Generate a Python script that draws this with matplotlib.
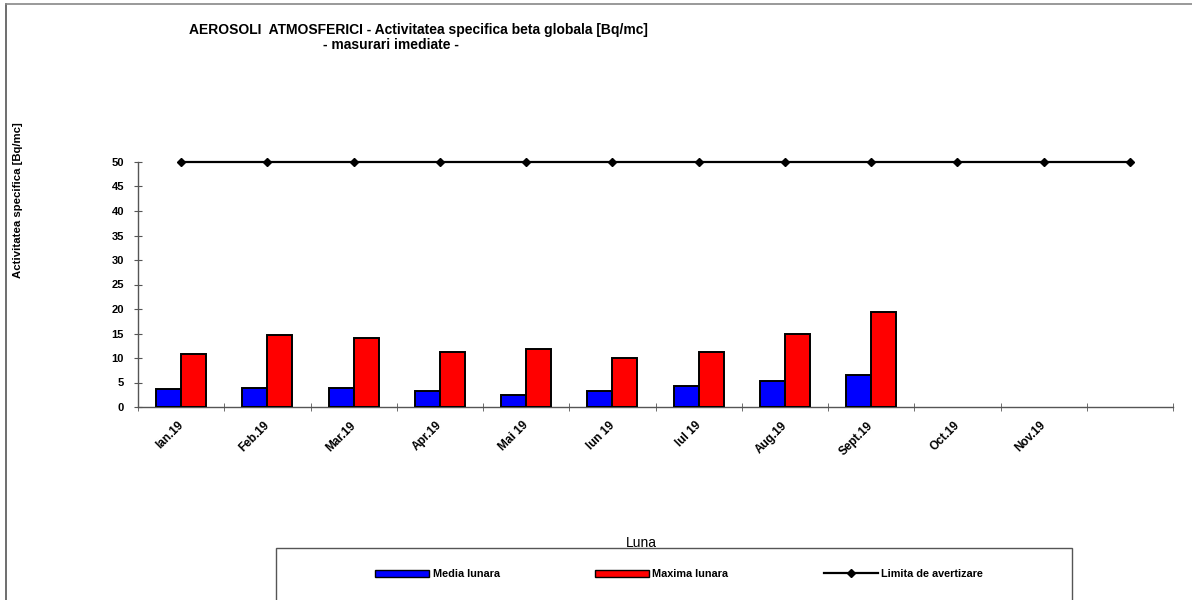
import matplotlib
matplotlib.use("Agg")
import matplotlib.pyplot as plt
from matplotlib.patches import Patch, Rectangle
from matplotlib.lines import Line2D
import matplotlib.transforms as mtransforms
import numpy as np

months = ["Ian.19", "Feb.19", "Mar.19", "Apr.19", "Mai 19", "Iun 19",
          "Iul 19", "Aug.19", "Sept.19", "Oct.19", "Nov.19", ""]
media = [3.6, 3.9, 3.8, 3.3, 2.4, 3.3, 4.2, 5.3, 6.5, None, None, None]
maxima = [10.8, 14.7, 14.1, 11.2, 11.9, 10.1, 11.2, 14.8, 19.4, None, None, None]
limita = [50] * 12

plt.rcParams['font.family'] = ['Liberation Sans', 'DejaVu Sans']

W, H = 1192, 600
fig = plt.figure(figsize=(W / 100, H / 100), dpi=100)

ax_l, ax_r, ax_b, ax_t = 138, 1173, 407, 162
ax = fig.add_axes([ax_l / W, 1 - ax_b / H, (ax_r - ax_l) / W, (ax_b - ax_t) / H])

x = np.arange(len(months))
bw = 0.29
m_idx = [i for i, v in enumerate(media) if v is not None]
ax.bar([x[i] - bw / 2 for i in m_idx], [media[i] for i in m_idx], width=bw,
       color="#0000ff", edgecolor="black", linewidth=1.4, label="Media lunara", zorder=3)
ax.bar([x[i] + bw / 2 for i in m_idx], [maxima[i] for i in m_idx], width=bw,
       color="#ff0000", edgecolor="black", linewidth=1.4, label="Maxima lunara", zorder=3)
ax.plot(x, limita, color="black", linewidth=1.6, marker="D", markersize=4.5,
        label="Limita de avertizare", zorder=4, clip_on=False)

ax.set_xlim(-0.5, len(months) - 0.5)
ax.set_ylim(0, 50)
ax.set_yticks(range(0, 51, 5))
ax.set_yticklabels([str(v) for v in range(0, 51, 5)], fontsize=8, fontweight="bold")
ax.set_xticks(x)
ax.set_xticklabels(months, rotation=45, ha="right", rotation_mode="anchor",
                   fontsize=8.5, fontweight="bold")
ax.tick_params(axis="x", length=0, pad=9)
ax.set_xticks(np.arange(-0.5, len(months) + 0.5, 1), minor=True)
ax.tick_params(axis="x", which="minor", length=6, direction="inout", color="#555555")
ax.tick_params(axis="y", length=6, direction="inout", color="#555555", width=0.8, pad=7)

for s in ["top", "right"]:
    ax.spines[s].set_visible(False)
for s in ["left", "bottom"]:
    ax.spines[s].set_color("#555555")
    ax.spines[s].set_linewidth(1.0)

offset = mtransforms.ScaledTranslation(-4 / 100, 0, fig.dpi_scale_trans)
for lbl in ax.get_xticklabels():
    lbl.set_transform(lbl.get_transform() + offset)

ax.set_ylabel("Activitatea specifica [Bq/mc]", fontsize=8.2, fontweight="bold")
ax.yaxis.set_label_coords((23 - ax_l) / (ax_r - ax_l), (ax_b - 200) / (ax_b - ax_t))
ax.set_xlabel("Luna", fontsize=10)
ax.xaxis.set_label_coords((641 - ax_l) / (ax_r - ax_l), -(536 - ax_b) / (ax_b - ax_t))

fig.text(418 / W, 1 - 30 / H, "AEROSOLI  ATMOSFERICI - Activitatea specifica beta globala [Bq/mc]",
         ha="center", va="center", fontsize=10, fontweight="bold")
fig.text(391 / W, 1 - 45 / H, "- masurari imediate -",
         ha="center", va="center", fontsize=10, fontweight="bold")

# legend frame
fig.patches.append(Rectangle((276 / W, -0.05), (1072 - 276) / W, 0.05 + (600 - 548) / H,
                             transform=fig.transFigure, fill=False,
                             edgecolor="#555555", linewidth=1.0))
handles = [Patch(facecolor="#0000ff", edgecolor="black", linewidth=1.0),
           Patch(facecolor="#ff0000", edgecolor="black", linewidth=1.0),
           Line2D([], [], color="black", linewidth=1.6, marker="D", markersize=4.5)]
labels = ["Media lunara", "Maxima lunara", "Limita de avertizare"]
fig.legend(handles, labels, loc="center", bbox_to_anchor=(679 / W, 1 - 574 / H),
           ncol=3, frameon=False, handlelength=5.0, handleheight=0.6,
           handletextpad=0.3, columnspacing=8.8, prop={"size": 7.8, "weight": "bold"})

# figure border (left and top)
fig.add_artist(Line2D([6 / W, 6 / W], [0, 1 - 4 / H], transform=fig.transFigure,
                      color="#555555", linewidth=1.2))
fig.add_artist(Line2D([6 / W, 1], [1 - 4 / H, 1 - 4 / H], transform=fig.transFigure,
                      color="#888888", linewidth=1.2))

fig.savefig("out.png", dpi=100)
